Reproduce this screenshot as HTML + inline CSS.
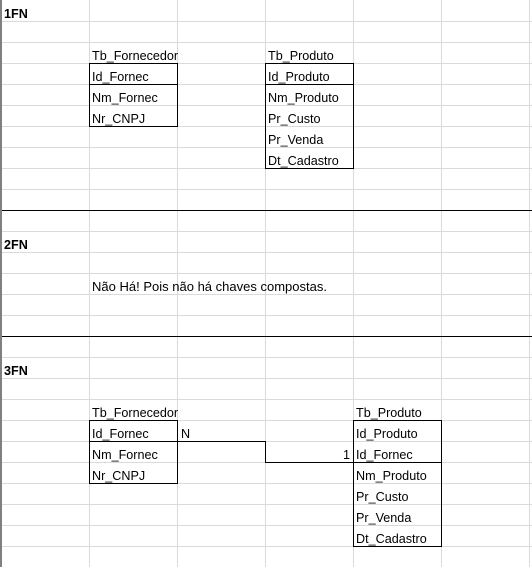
<!DOCTYPE html>
<html><head><meta charset="utf-8"><style>
html,body{margin:0;padding:0;background:#fff;}
svg{display:block;}
text{font-family:"Liberation Sans",Arial,sans-serif;font-size:12.6px;fill:#000;}
.b{font-weight:bold;}
</style></head><body>
<svg width="532" height="567" viewBox="0 0 532 567" xmlns="http://www.w3.org/2000/svg">
<g stroke="#dadada" stroke-width="1">
<line x1="89.5" y1="0" x2="89.5" y2="567"/>
<line x1="177.5" y1="0" x2="177.5" y2="567"/>
<line x1="265.5" y1="0" x2="265.5" y2="567"/>
<line x1="353.5" y1="0" x2="353.5" y2="567"/>
<line x1="441.5" y1="0" x2="441.5" y2="567"/>
<line x1="529.5" y1="0" x2="529.5" y2="567"/>
<line x1="0" y1="21.5" x2="532" y2="21.5"/><line x1="0" y1="42.5" x2="532" y2="42.5"/>
<line x1="0" y1="63.5" x2="532" y2="63.5"/><line x1="0" y1="84.5" x2="532" y2="84.5"/>
<line x1="0" y1="105.5" x2="532" y2="105.5"/><line x1="0" y1="126.5" x2="532" y2="126.5"/>
<line x1="0" y1="147.5" x2="532" y2="147.5"/><line x1="0" y1="168.5" x2="532" y2="168.5"/>
<line x1="0" y1="189.5" x2="532" y2="189.5"/><line x1="0" y1="231.5" x2="532" y2="231.5"/>
<line x1="0" y1="252.5" x2="532" y2="252.5"/><line x1="0" y1="273.5" x2="532" y2="273.5"/>
<line x1="0" y1="294.5" x2="532" y2="294.5"/><line x1="0" y1="315.5" x2="532" y2="315.5"/>
<line x1="0" y1="357.5" x2="532" y2="357.5"/><line x1="0" y1="378.5" x2="532" y2="378.5"/>
<line x1="0" y1="399.5" x2="532" y2="399.5"/><line x1="0" y1="420.5" x2="532" y2="420.5"/>
<line x1="0" y1="441.5" x2="532" y2="441.5"/><line x1="0" y1="462.5" x2="532" y2="462.5"/>
<line x1="0" y1="483.5" x2="532" y2="483.5"/><line x1="0" y1="504.5" x2="532" y2="504.5"/>
<line x1="0" y1="525.5" x2="532" y2="525.5"/><line x1="0" y1="546.5" x2="532" y2="546.5"/>
</g>
<rect x="0" y="0" width="2" height="567" fill="#808080"/>
<g stroke="#000" stroke-width="1" fill="none">
<line x1="2" y1="210.5" x2="532" y2="210.5"/>
<line x1="2" y1="336.5" x2="532" y2="336.5"/>
<rect x="89.5" y="63.5" width="88" height="63"/>
<line x1="89.5" y1="84.5" x2="177.5" y2="84.5"/>
<rect x="265.5" y="63.5" width="88" height="105"/>
<line x1="265.5" y1="84.5" x2="353.5" y2="84.5"/>
<rect x="89.5" y="420.5" width="88" height="63"/>
<line x1="89.5" y1="441.5" x2="177.5" y2="441.5"/>
<rect x="353.5" y="420.5" width="88" height="126"/>
<line x1="353.5" y1="462.5" x2="441.5" y2="462.5"/>
<polyline points="177.5,441.5 265.5,441.5 265.5,462.5 353.5,462.5"/>
</g>
<text class="b" x="4" y="18">1FN</text>
<text x="92" y="60">Tb_Fornecedor</text>
<text x="92" y="81">Id_Fornec</text>
<text x="92" y="102">Nm_Fornec</text>
<text x="92" y="123">Nr_CNPJ</text>
<text x="268" y="60">Tb_Produto</text>
<text x="268" y="81">Id_Produto</text>
<text x="268" y="102">Nm_Produto</text>
<text x="268" y="123">Pr_Custo</text>
<text x="268" y="144">Pr_Venda</text>
<text x="268" y="165">Dt_Cadastro</text>
<text class="b" x="4" y="249">2FN</text>
<text x="92" y="291" textLength="235" lengthAdjust="spacingAndGlyphs">Não Há! Pois não há chaves compostas.</text>
<text class="b" x="4" y="375">3FN</text>
<text x="92" y="417">Tb_Fornecedor</text>
<text x="92" y="438">Id_Fornec</text>
<text x="92" y="459">Nm_Fornec</text>
<text x="92" y="480">Nr_CNPJ</text>
<text x="181" y="438">N</text>
<text x="350" y="459" text-anchor="end">1</text>
<text x="356" y="417">Tb_Produto</text>
<text x="356" y="438">Id_Produto</text>
<text x="356" y="459">Id_Fornec</text>
<text x="356" y="480">Nm_Produto</text>
<text x="356" y="501">Pr_Custo</text>
<text x="356" y="522">Pr_Venda</text>
<text x="356" y="543">Dt_Cadastro</text>
</svg>
</body></html>
